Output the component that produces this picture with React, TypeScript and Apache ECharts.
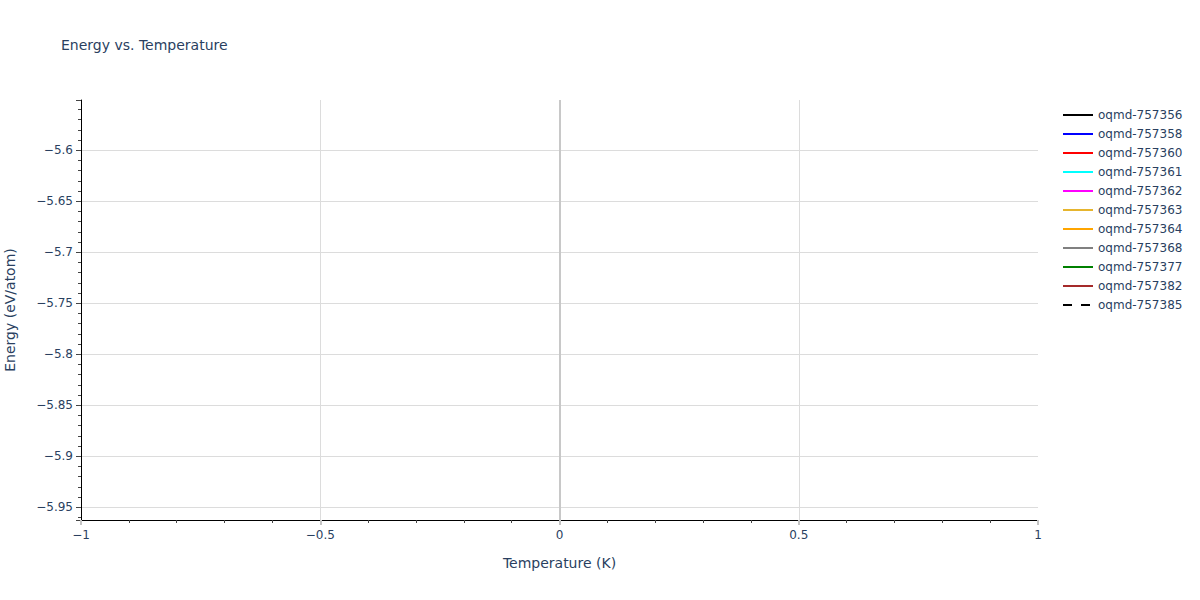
import React, { useEffect, useRef } from 'react';
import * as echarts from 'echarts';

// legend entries (the reference plot has no visible data points)
const seriesNames = [
  'oqmd-757356',
  'oqmd-757358',
  'oqmd-757360',
  'oqmd-757361',
  'oqmd-757362',
  'oqmd-757363',
  'oqmd-757364',
  'oqmd-757368',
  'oqmd-757377',
  'oqmd-757382',
  'oqmd-757385',
];
const seriesColors = [
  '#000000', '#0000ff', '#ff0000', '#00ffff', '#ff00ff',
  '#e6b52e', '#ffa500', '#808080', '#008000', '#a52a2a', '#000000',
];
const seriesDashed = [false, false, false, false, false, false, false, false, false, false, true];
const seriesPoints: [number, number][][] = [[], [], [], [], [], [], [], [], [], [], []];

const xRange = [-1, 1];
const yRange = [-5.9625, -5.5507];
const xMajor = 0.5;
const yMajor = 0.05;
const yMinor = 0.01;

const textColor = '#2a3f5f';
const gridColor = '#dcdcdc';

const minusFmt = (v: number) => String(v).replace('-', '\u2212');

const App: React.FC = () => {
  const chartRef = useRef<HTMLDivElement>(null);

  useEffect(() => {
    if (!chartRef.current) return;
    const chart = echarts.init(chartRef.current, undefined, { renderer: 'svg' });

    const option: any = {
      animation: false,
      textStyle: { fontFamily: 'DejaVu Sans', color: textColor },
      title: {
        text: 'Energy vs. Temperature',
        left: 61,
        top: 38,
        padding: 0,
        textStyle: { fontSize: 14, fontWeight: 'normal', color: textColor, fontFamily: 'DejaVu Sans' },
      },
      legend: {
        orient: 'vertical',
        left: 1062,
        top: 109,
        padding: 0,
        itemWidth: 30,
        itemHeight: 14,
        itemGap: 7,
        data: seriesNames,
        itemStyle: { color: 'rgba(0,0,0,0)', borderColor: 'rgba(0,0,0,0)', borderWidth: 0, opacity: 0 },
        textStyle: { fontSize: 12, color: textColor, fontFamily: 'DejaVu Sans' },
      },
      grid: { left: 81, right: 162, top: 100, bottom: 80, outerBoundsMode: 'none' },
      xAxis: {
        type: 'value',
        min: xRange[0],
        max: xRange[1],
        interval: xMajor,
        name: 'Temperature (K)',
        nameLocation: 'middle',
        nameGap: 36,
        nameTextStyle: { fontSize: 14, color: textColor },
        axisLine: { show: true, onZero: false, lineStyle: { color: '#000000', width: 1 } },
        axisTick: { show: true, length: 5, lineStyle: { color: '#c4c4c4', width: 2 } },
        minorTick: { show: true, splitNumber: 5, length: 3, lineStyle: { color: '#444444', width: 1 } },
        axisLabel: { fontSize: 12, color: textColor, margin: 9, formatter: minusFmt },
        splitLine: {
          show: true,
          showMinLine: false,
          showMaxLine: false,
          lineStyle: { color: gridColor, width: 1 },
        },
      },
      yAxis: [
        {
          type: 'value',
          min: yRange[0],
          max: yRange[1],
          minInterval: yMajor,
          maxInterval: yMajor,
          name: 'Energy (eV/atom)',
          nameLocation: 'middle',
          nameGap: 64,
          nameTextStyle: { fontSize: 14, color: textColor },
          axisLine: { show: true, onZero: false, lineStyle: { color: '#000000', width: 1 } },
          axisTick: { show: true, length: 5, lineStyle: { color: '#444444', width: 1 } },
          axisLabel: {
            fontSize: 12,
            color: textColor,
            margin: 8,
            formatter: (v: number) => {
              const k = v / yMajor;
              return Math.abs(k - Math.round(k)) > 1e-6 ? '' : minusFmt(v);
            },
          },
          splitLine: {
            show: true,
            showMinLine: false,
            showMaxLine: false,
            lineStyle: { color: gridColor, width: 1 },
          },
        },
        {
          // minor ticks
          type: 'value',
          position: 'left',
          offset: 0,
          min: yRange[0],
          max: yRange[1],
          minInterval: yMinor,
          maxInterval: yMinor,
          axisLine: { show: false, onZero: false },
          axisTick: { show: true, length: 3, lineStyle: { color: '#444444', width: 1 } },
          axisLabel: { show: false },
          splitLine: { show: false },
        },
      ],
      series: seriesNames.map((name, i) => ({
        name,
        type: 'line',
        data: seriesPoints[i],
        symbol: 'none',
        lineStyle: { color: seriesColors[i], width: 2, type: seriesDashed[i] ? [9, 9] : 'solid' },
        itemStyle: { color: seriesColors[i] },
        markLine:
          i === 0
            ? {
                silent: true,
                symbol: 'none',
                label: { show: false },
                lineStyle: { color: '#c8c8c8', width: 2, type: 'solid' },
                data: [{ xAxis: 0 }],
              }
            : undefined,
      })),
    };

    chart.setOption(option);
    return () => chart.dispose();
  }, []);

  return (
    <div
      ref={chartRef}
      style={{ position: 'absolute', left: 0, top: 0, width: 1200, height: 600, background: '#ffffff' }}
    />
  );
};

export default App;
